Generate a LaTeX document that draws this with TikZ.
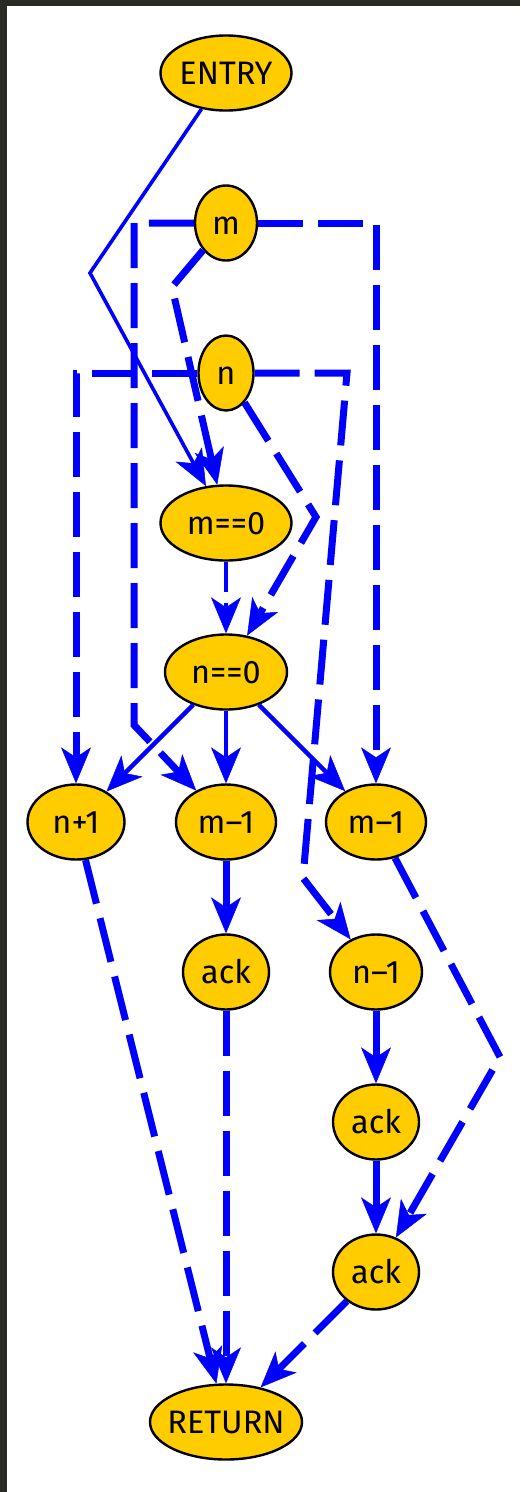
\documentclass[tikz,border=0pt]{standalone}
\usepackage{fontspec}
\setmainfont{Fira Sans}
\usetikzlibrary{arrows.meta,shapes.geometric}
\definecolor{gvfill}{HTML}{FFCC00}
\definecolor{gvblue}{HTML}{0000FF}
\definecolor{frameshade}{HTML}{2B2B26}
% label set on a fixed baseline below the node centre, taking no room
\newcommand\ntext[1]{\makebox[0pt]{\raisebox{-11.5pt}[0pt][0pt]{#1}}}

\begin{document}
\begin{tikzpicture}[x=1pt,y=-1pt,
  vertex/.style={ellipse, draw=black, line width=2.4pt, fill=gvfill,
    inner sep=0pt, minimum height=75pt, font=\fontsize{32.5}{32.5}\selectfont},
  tip/.style={-{Stealth[length=36pt,width=30pt,inset=10pt,line width=0.5pt]}},
  heavy/.style={gvblue, line width=7pt, tip},
  heavydash/.style={heavy, dash pattern=on 45pt off 15pt},
  medium/.style={gvblue, line width=4.5pt, tip},
  mediumdash/.style={medium, dash pattern=on 30pt off 11pt},
  light/.style={gvblue, line width=3.6pt, tip}
]
% canvas and dark frame strips
\fill[white] (0,0) rectangle (520,1492);
\fill[frameshade] (0,0) rectangle (520,6);
\fill[frameshade] (0,0) rectangle (7,1492);
\useasboundingbox (0,0) rectangle (520,1492);

% nodes
\node[vertex, minimum width=131pt] (entry) at (226,73)  {\ntext{ENTRY}};
\node[vertex, minimum width=62pt]  (m)     at (226,223) {\ntext{m}};
\node[vertex, minimum width=55pt]  (n)     at (226,373) {\ntext{n}};
\node[vertex, minimum width=131pt] (meq)   at (226,523) {\ntext{m==0}};
\node[vertex, minimum width=122pt] (neq)   at (226,672) {\ntext{n==0}};
\node[vertex, minimum width=97pt]  (np1)   at (76,822)  {\ntext{n+1}};
\node[vertex, minimum width=100pt] (mma)   at (226,822) {\ntext{m--1}};
\node[vertex, minimum width=100pt] (mmb)   at (376,822) {\ntext{m--1}};
\node[vertex, minimum width=86pt]  (acka)  at (226,972) {\ntext{ack}};
\node[vertex, minimum width=92pt]  (nm1)   at (376,972) {\ntext{n--1}};
\node[vertex, minimum width=86pt]  (ackb)  at (376,1122) {\ntext{ack}};
\node[vertex, minimum width=86pt]  (ackc)  at (376,1272) {\ntext{ack}};
\node[vertex, minimum width=152pt] (ret)   at (226,1422) {\ntext{RETURN}};

% bend points of the routed edges
\coordinate (e1) at (90,273);
\coordinate (m1) at (172,287);
\coordinate (m2) at (134,223);
\coordinate (m3) at (134,725);
\coordinate (n1) at (347,373);
\coordinate (n2) at (303,878);
\coordinate (n3) at (316,517);
\coordinate (r1) at (500,1057);

% control flow
\draw[light] (entry) -- (e1) -- (meq);
\draw[mediumdash] (meq) -- (neq);
\draw[medium] (neq) -- (np1);
\draw[medium] (neq) -- (mma);
\draw[medium] (neq) -- (mmb);
\draw[heavy] (mma) -- (acka);
\draw[heavy] (nm1) -- (ackb);
\draw[heavy] (ackb) -- (ackc);

% data flow
\draw[heavydash] (m) -| (mmb);
\draw[heavydash] (m) -- (m2) -- (m3) -- (mma);
\draw[heavydash] (m) -- (m1) -- (meq);
\draw[heavydash] (n) -| (np1);
\draw[heavydash] (n) -- (n1) -- (n2) -- (nm1);
\draw[heavydash] (n) -- (n3) -- (neq);
\draw[heavydash] (np1) -- (ret);
\draw[heavydash] (acka) -- (ret);
\draw[heavydash] (mmb) -- (r1) -- (ackc);
\draw[heavydash] (ackc) -- (ret);
\end{tikzpicture}
\end{document}
